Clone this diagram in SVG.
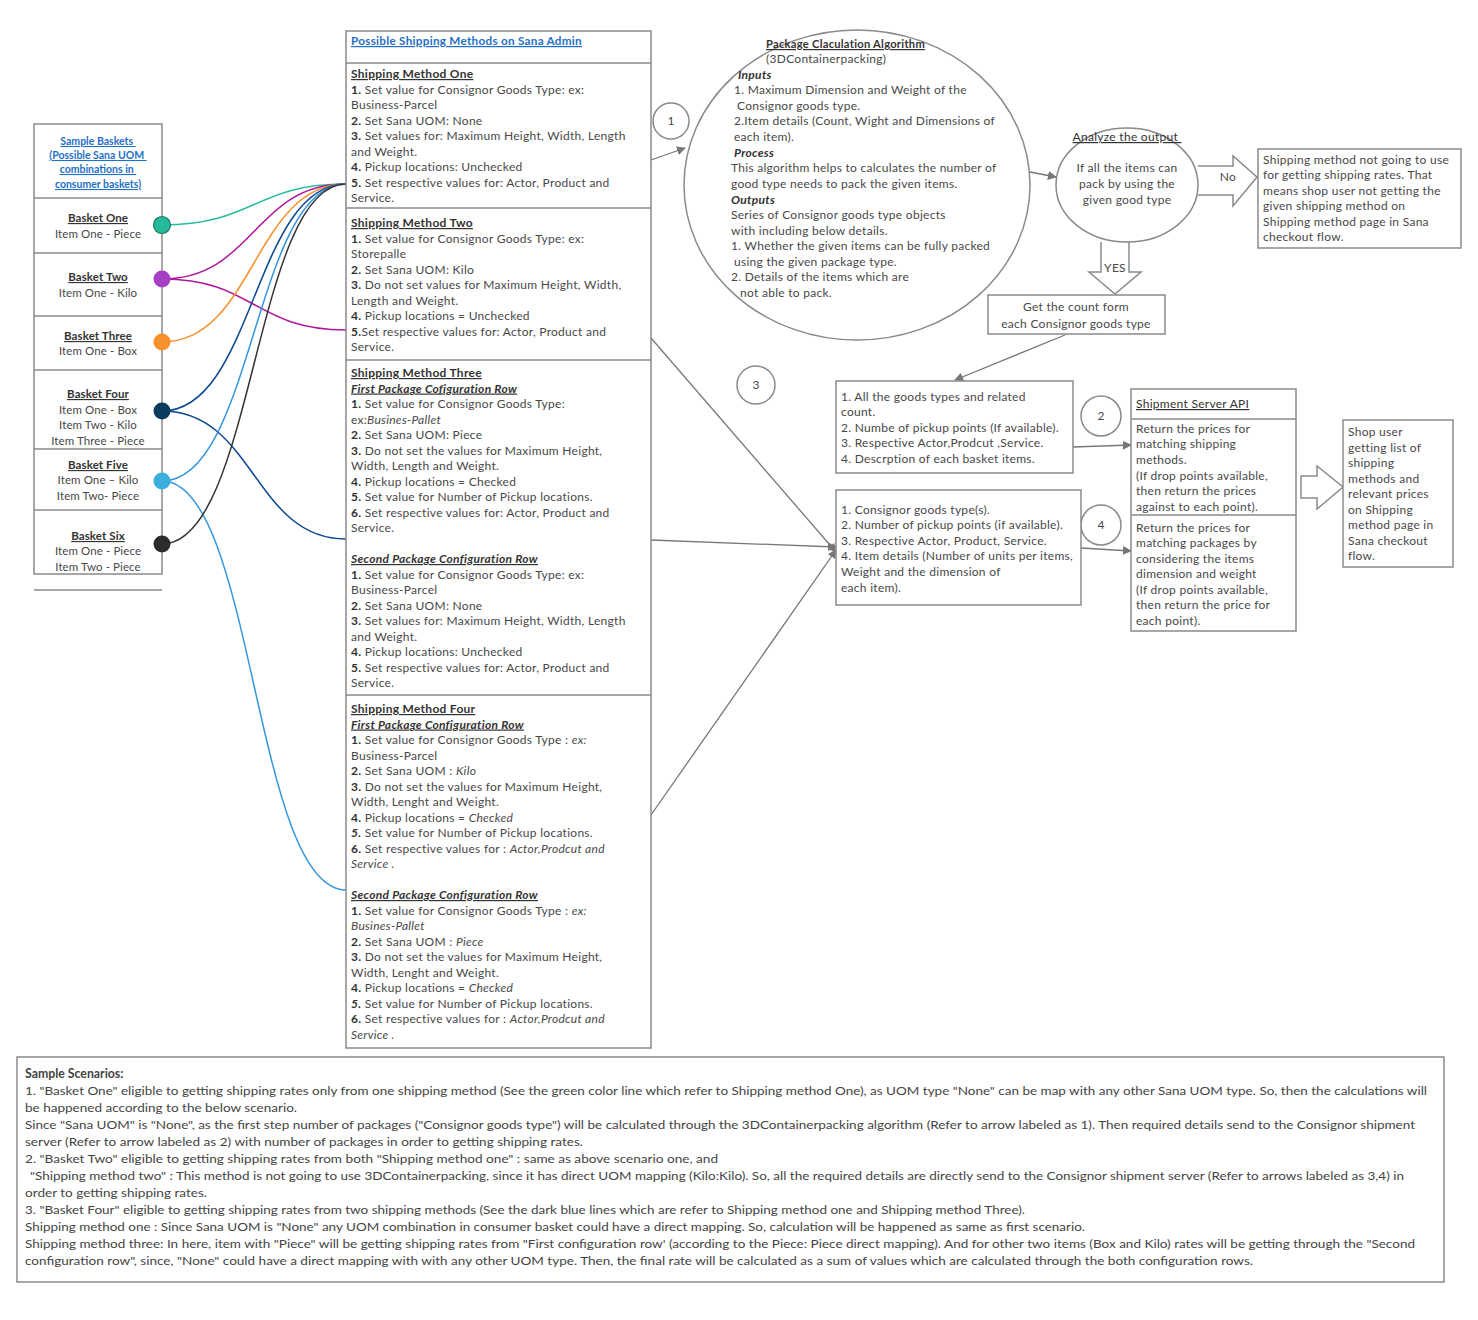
<svg xmlns="http://www.w3.org/2000/svg" width="1478" height="1320" viewBox="0 0 1478 1320">
<defs>
<style>
text { font-family: Lato, "Open Sans", "Liberation Sans", sans-serif; fill: #484848; }
.t { font-size: 12px; letter-spacing: 0.28px; }
.s { font-size: 12px; letter-spacing: 0.28px; }
.bk { font-size: 11.5px; letter-spacing: 0.1px; }
.hd { font-weight: bold; text-decoration: underline; fill: #333; }
.it { font-style: italic; font-weight: bold; text-decoration: underline; fill: #333; }
.b { font-weight: bold; fill: #333; }
.i { font-style: italic; }
.bi { font-style: italic; font-weight: bold; fill: #333; }
.lnk { font-weight: bold; text-decoration: underline; fill: #1f6fc5; }
.ul { text-decoration: underline; fill: #333; }
.box { fill: #fff; stroke: #8a8a8a; stroke-width: 1.5; }
.div { stroke: #8a8a8a; stroke-width: 1.5; fill: none; }
.arr { stroke: #777; stroke-width: 1.3; fill: none; marker-end: url(#ah); }
.cur { fill: none; stroke-width: 1.5; }
.sc { font-size: 12.3px; fill: #444; }
</style>
<marker id="ah" viewBox="0 0 10 10" refX="9" refY="5" markerWidth="9" markerHeight="9" markerUnits="userSpaceOnUse" orient="auto">
<path d="M0,0 L10,5 L0,10 z" fill="#777"/>
</marker>
</defs>
<rect width="1478" height="1320" fill="#fff"/>

<!-- Baskets -->
<g id="baskets">
<rect class="box" x="34" y="124" width="128" height="450"/>
<line class="div" x1="34" y1="198" x2="162" y2="198"/>
<line class="div" x1="34" y1="253" x2="162" y2="253"/>
<line class="div" x1="34" y1="316" x2="162" y2="316"/>
<line class="div" x1="34" y1="370" x2="162" y2="370"/>
<line class="div" x1="34" y1="449" x2="162" y2="449"/>
<line class="div" x1="34" y1="510" x2="162" y2="510"/>
<line class="div" x1="34" y1="590" x2="162" y2="590"/>
<text class="lnk" font-size="10.5" text-anchor="middle"><tspan x="98" y="145">Sample Baskets </tspan><tspan x="98" y="159">(Possible Sana UOM </tspan><tspan x="98" y="173">combinations in </tspan><tspan x="98" y="188">consumer baskets)</tspan></text>
</g>
<g id="basket-one"><text class="bk" text-anchor="middle"><tspan x="98" y="222" class="hd">Basket One</tspan><tspan x="98" y="238">Item One - Piece</tspan></text></g>
<g id="basket-two"><text class="bk" text-anchor="middle"><tspan x="98" y="281" class="hd">Basket Two</tspan><tspan x="98" y="297">Item One - Kilo</tspan></text></g>
<g id="basket-three"><text class="bk" text-anchor="middle"><tspan x="98" y="340" class="hd">Basket Three</tspan><tspan x="98" y="355">Item One - Box</tspan></text></g>
<g id="basket-four"><text class="bk" text-anchor="middle"><tspan x="98" y="398" class="hd">Basket Four</tspan><tspan x="98" y="414">Item One - Box</tspan><tspan x="98" y="429">Item Two - Kilo</tspan><tspan x="98" y="445">Item Three - Piece</tspan></text></g>
<g id="basket-five"><text class="bk" text-anchor="middle"><tspan x="98" y="469" class="hd">Basket Five</tspan><tspan x="98" y="484">Item One – Kilo</tspan><tspan x="98" y="500">Item Two- Piece</tspan></text></g>
<g id="basket-six"><text class="bk" text-anchor="middle"><tspan x="98" y="540" class="hd">Basket Six</tspan><tspan x="98" y="555">Item One - Piece</tspan><tspan x="98" y="571">Item Two - Piece</tspan></text></g>

<!-- Connectors -->
<g id="connectors">
<path class="cur" stroke="#2bbc9c" d="M162,225 C254,225 254,184 346,184"/>
<path class="cur" stroke="#b0179a" d="M162,279 C254,279 254,184 346,184"/>
<path class="cur" stroke="#b0179a" d="M162,279 C254,279 254,330 346,330"/>
<path class="cur" stroke="#f7912b" d="M162,342 C254,342 254,184 346,184"/>
<path class="cur" stroke="#0a4791" d="M162,411 C254,411 254,184 346,184"/>
<path class="cur" stroke="#0a4791" d="M162,411 C254,411 254,539 346,539"/>
<path class="cur" stroke="#3497e0" d="M162,481 C254,481 254,184 346,184"/>
<path class="cur" stroke="#3497e0" d="M162,481 C254,481 254,890 346,890"/>
<path class="cur" stroke="#333" d="M162,544 C254,544 254,184 346,184"/>
<line class="arr" x1="651" y1="160" x2="685" y2="148"/>
<line class="arr" x1="1030" y1="172" x2="1056" y2="177"/>
<line class="arr" x1="1065" y1="335" x2="955" y2="380"/>
<line class="arr" x1="1073" y1="447" x2="1131" y2="445"/>
<line class="arr" x1="1081" y1="548" x2="1131" y2="551"/>
<line class="arr" x1="651" y1="338" x2="836" y2="552"/>
<line class="arr" x1="651" y1="540" x2="836" y2="547"/>
<line class="arr" x1="651" y1="815" x2="836" y2="550"/>
<path d="M1198,166 L1233,166 L1233,156 L1257,177 L1233,206 L1233,195 L1198,195" fill="#fff" stroke="#8a8a8a" stroke-width="1.5"/>
<text class="t" x="1228" y="181" text-anchor="middle">No</text>
<path d="M1101,242 L1101,272 L1089,272 L1115,294 L1141,272 L1129,272 L1129,242" fill="#fff" stroke="#8a8a8a" stroke-width="1.5"/>
<text class="t" font-size="10.5" x="1115" y="272" text-anchor="middle" letter-spacing="0">YES</text>
<path d="M1301,476 L1317,476 L1317,466 L1343,487 L1317,509 L1317,498 L1301,498 Z" fill="#fff" stroke="#8a8a8a" stroke-width="1.5"/>
</g>

<!-- Shipping methods column -->
<g id="shipping-methods">
<rect class="box" x="346" y="31" width="305" height="1017"/>
<line class="div" x1="346" y1="63" x2="651" y2="63"/>
<line class="div" x1="346" y1="208" x2="651" y2="208"/>
<line class="div" x1="346" y1="360" x2="651" y2="360"/>
<line class="div" x1="346" y1="695" x2="651" y2="695"/>
<text class="t lnk" font-weight="normal" x="351" y="45" textLength="231" lengthAdjust="spacingAndGlyphs">Possible Shipping Methods on Sana Admin</text>
</g>
<g id="method-one">
<text class="t"><tspan x="351" y="78" class="hd">Shipping Method One</tspan><tspan x="351" dy="15.5"><tspan class="b">1.</tspan> Set value for Consignor Goods Type:  ex:</tspan><tspan x="351" dy="15.5">Business-Parcel</tspan><tspan x="351" dy="15.5"><tspan class="b">2.</tspan> Set Sana UOM: None</tspan><tspan x="351" dy="15.5"><tspan class="b">3.</tspan> Set values for: Maximum Height, Width, Length</tspan><tspan x="351" dy="15.5">and Weight.</tspan><tspan x="351" dy="15.5"><tspan class="b">4.</tspan> Pickup locations: Unchecked</tspan><tspan x="351" dy="15.5"><tspan class="b">5.</tspan> Set respective values for:  Actor, Product and</tspan><tspan x="351" dy="15.5">Service.</tspan></text>
</g>
<g id="method-two">
<text class="t"><tspan x="351" y="227" class="hd">Shipping Method Two</tspan><tspan x="351" dy="15.5"><tspan class="b">1.</tspan> Set value for Consignor Goods Type:  ex:</tspan><tspan x="351" dy="15.5">Storepalle</tspan><tspan x="351" dy="15.5"><tspan class="b">2.</tspan> Set Sana UOM: Kilo</tspan><tspan x="351" dy="15.5"><tspan class="b">3.</tspan> Do not set values for Maximum Height, Width,</tspan><tspan x="351" dy="15.5">Length and Weight.</tspan><tspan x="351" dy="15.5"><tspan class="b">4.</tspan> Pickup locations = Unchecked</tspan><tspan x="351" dy="15.5"><tspan class="b">5.</tspan>Set respective values for:  Actor, Product and</tspan><tspan x="351" dy="15.5">Service.</tspan></text>
</g>
<g id="method-three">
<text class="t"><tspan x="351" y="377" class="hd">Shipping Method Three</tspan><tspan x="351" dy="15.5" class="it">First Package Cofiguration Row</tspan><tspan x="351" dy="15.5"><tspan class="b">1.</tspan> Set value for Consignor Goods Type:</tspan><tspan x="351" dy="15.5">ex:<tspan class="i">Busines-Pallet</tspan></tspan><tspan x="351" dy="15.5"><tspan class="b">2.</tspan> Set Sana UOM: Piece</tspan><tspan x="351" dy="15.5"><tspan class="b">3.</tspan> Do not set the values for Maximum Height,</tspan><tspan x="351" dy="15.5">Width, Length and Weight.</tspan><tspan x="351" dy="15.5"><tspan class="b">4.</tspan> Pickup locations = Checked</tspan><tspan x="351" dy="15.5"><tspan class="b">5.</tspan> Set value for Number of Pickup locations.</tspan><tspan x="351" dy="15.5"><tspan class="b">6.</tspan> Set respective values for:  Actor, Product and</tspan><tspan x="351" dy="15.5">Service.</tspan><tspan x="351" dy="31" class="it">Second Package Configuration Row</tspan><tspan x="351" dy="15.5"><tspan class="b">1.</tspan> Set value for Consignor Goods Type:  ex:</tspan><tspan x="351" dy="15.5">Business-Parcel</tspan><tspan x="351" dy="15.5"><tspan class="b">2.</tspan> Set Sana UOM: None</tspan><tspan x="351" dy="15.5"><tspan class="b">3.</tspan> Set values for: Maximum Height, Width, Length</tspan><tspan x="351" dy="15.5">and Weight.</tspan><tspan x="351" dy="15.5"><tspan class="b">4.</tspan> Pickup locations: Unchecked</tspan><tspan x="351" dy="15.5"><tspan class="b">5.</tspan> Set respective values for:  Actor, Product and</tspan><tspan x="351" dy="15.5">Service.</tspan></text>
</g>
<g id="method-four">
<text class="t"><tspan x="351" y="713" class="hd">Shipping Method Four</tspan><tspan x="351" dy="15.5" class="it">First Package Configuration Row</tspan><tspan x="351" dy="15.5"><tspan class="b">1.</tspan> Set value for Consignor Goods Type :  <tspan class="i">ex:</tspan></tspan><tspan x="351" dy="15.5">Business-Parcel</tspan><tspan x="351" dy="15.5"><tspan class="b">2.</tspan> Set Sana UOM : <tspan class="i">Kilo</tspan></tspan><tspan x="351" dy="15.5"><tspan class="b">3.</tspan> Do not set the values for Maximum Height,</tspan><tspan x="351" dy="15.5">Width, Lenght and Weight.</tspan><tspan x="351" dy="15.5"><tspan class="b">4.</tspan> Pickup locations = <tspan class="i">Checked</tspan></tspan><tspan x="351" dy="15.5"><tspan class="bi">5.</tspan> Set value for Number of Pickup locations.</tspan><tspan x="351" dy="15.5"><tspan class="b">6.</tspan> Set respective values for :  <tspan class="i">Actor,Prodcut and</tspan></tspan><tspan x="351" dy="15.5" class="i">Service .</tspan><tspan x="351" dy="31" class="it">Second Package Configuration Row</tspan><tspan x="351" dy="15.5"><tspan class="b">1.</tspan> Set value for Consignor Goods Type :  <tspan class="i">ex:</tspan></tspan><tspan x="351" dy="15.5" class="i">Busines-Pallet</tspan><tspan x="351" dy="15.5"><tspan class="b">2.</tspan> Set Sana UOM : <tspan class="i">Piece</tspan></tspan><tspan x="351" dy="15.5"><tspan class="b">3.</tspan> Do not set the values for Maximum Height,</tspan><tspan x="351" dy="15.5">Width, Lenght and Weight.</tspan><tspan x="351" dy="15.5"><tspan class="b">4.</tspan> Pickup locations = <tspan class="i">Checked</tspan></tspan><tspan x="351" dy="15.5"><tspan class="bi">5.</tspan> Set value for Number of Pickup locations.</tspan><tspan x="351" dy="15.5"><tspan class="b">6.</tspan> Set respective values for :  <tspan class="i">Actor,Prodcut and</tspan></tspan><tspan x="351" dy="15.5" class="i">Service .</tspan></text>
</g>

<!-- Dots -->
<g id="dots">
<circle cx="162" cy="225" r="8.5" fill="#26b99a" stroke="#1d7a62" stroke-width="1.2"/>
<circle cx="162" cy="279" r="8.5" fill="#a63fc3"/>
<circle cx="162" cy="342" r="8.5" fill="#f7912b"/>
<circle cx="162" cy="411" r="8.5" fill="#0b3b5c"/>
<circle cx="162" cy="481" r="8.5" fill="#3aaedc"/>
<circle cx="162" cy="544" r="8.5" fill="#2b2b2b"/>
</g>

<!-- Numbered circles -->
<g id="label-1"><circle class="box" cx="671" cy="121" r="18"/><text class="s" x="671" y="125" text-anchor="middle">1</text></g>
<g id="label-3"><circle class="box" cx="756" cy="385" r="19"/><text class="s" x="756" y="389" text-anchor="middle">3</text></g>
<g id="label-2"><circle class="box" cx="1101" cy="416" r="20"/><text class="s" x="1101" y="420" text-anchor="middle">2</text></g>
<g id="label-4"><circle class="box" cx="1101" cy="525" r="20"/><text class="s" x="1101" y="529" text-anchor="middle">4</text></g>

<!-- Algorithm ellipse -->
<g id="algorithm">
<ellipse class="box" cx="857" cy="185" rx="173" ry="155"/>
<text class="s"><tspan x="766" y="48" class="ul" font-weight="bold" textLength="159" lengthAdjust="spacingAndGlyphs">Package Claculation Algorithm</tspan><tspan x="766" y="63">(3DContainerpacking)</tspan><tspan x="738" y="79" class="bi">Inputs</tspan><tspan x="734" y="94">1. Maximum Dimension and Weight of the</tspan><tspan x="737" y="110">Consignor goods type.</tspan><tspan x="734" y="125">2.Item details (Count, Wight and Dimensions of</tspan><tspan x="734" y="141">each item).</tspan><tspan x="734" y="157" class="bi">Process</tspan><tspan x="731" y="172">This algorithm helps to calculates the number of</tspan><tspan x="731" y="188">good type needs to pack the given items.</tspan><tspan x="731" y="204" class="bi">Outputs</tspan><tspan x="731" y="219">Series of Consignor goods type objects</tspan><tspan x="731" y="235">with including below details.</tspan><tspan x="731" y="250">1. Whether the given items can be fully packed</tspan><tspan x="734" y="266">using the given package type.</tspan><tspan x="731" y="281">2. Details of the items which are</tspan><tspan x="740" y="297">not able to pack.</tspan></text>
</g>

<!-- Analyze -->
<g id="analyze">
<ellipse class="box" cx="1127" cy="185" rx="71" ry="57"/>
<text class="s" text-anchor="middle"><tspan x="1127" y="141" class="ul" font-weight="normal">Analyze the output </tspan><tspan x="1127" y="172">If all the items can</tspan><tspan x="1127" y="188">pack by using the</tspan><tspan x="1127" y="204">given good type</tspan></text>
</g>

<g id="not-used">
<rect class="box" x="1258" y="149" width="203" height="99"/>
<text class="s"><tspan x="1263" y="164">Shipping method not going to use</tspan><tspan x="1263" y="179">for getting shipping rates. That</tspan><tspan x="1263" y="195">means shop user not getting the</tspan><tspan x="1263" y="210">given shipping method on</tspan><tspan x="1263" y="226">Shipping method page in Sana</tspan><tspan x="1263" y="241">checkout flow.</tspan></text>
</g>

<g id="get-count">
<rect class="box" x="988" y="295" width="177" height="39"/>
<text class="t" font-size="13" letter-spacing="0.3" text-anchor="middle"><tspan x="1076" y="311">Get the count form</tspan><tspan x="1076" y="328">each Consignor goods type</tspan></text>
</g>

<g id="details-a">
<rect class="box" x="836" y="381" width="237" height="92"/>
<text class="s"><tspan x="841" y="401">1. All the goods types and related</tspan><tspan x="841" y="416">count.</tspan><tspan x="841" y="432">2. Numbe of pickup points (If available).</tspan><tspan x="841" y="447">3. Respective Actor,Prodcut ,Service.</tspan><tspan x="841" y="463">4. Descrption of each basket items.</tspan></text>
</g>

<g id="details-b">
<rect class="box" x="836" y="490" width="245" height="115"/>
<text class="s"><tspan x="841" y="514">1. Consignor goods type(s).</tspan><tspan x="841" y="529">2. Number of pickup points (if available).</tspan><tspan x="841" y="545">3. Respective Actor, Product, Service.</tspan><tspan x="841" y="560">4. Item details (Number of units per items,</tspan><tspan x="841" y="576">Weight and the dimension of</tspan><tspan x="841" y="592">each item).</tspan></text>
</g>

<g id="shipment-api">
<rect class="box" x="1131" y="389" width="165" height="242"/>
<line class="div" x1="1131" y1="419" x2="1296" y2="419"/>
<line class="div" x1="1131" y1="515" x2="1296" y2="515"/>
<text class="s"><tspan x="1136" y="408" class="ul" font-weight="normal">Shipment Server API</tspan><tspan x="1136" y="433">Return the prices for</tspan><tspan x="1136" y="448">matching shipping</tspan><tspan x="1136" y="464">methods.</tspan><tspan x="1136" y="480">(If drop points available,</tspan><tspan x="1136" y="495">then return the prices</tspan><tspan x="1136" y="511">against to each point).</tspan><tspan x="1136" y="532">Return the prices for</tspan><tspan x="1136" y="547">matching packages by</tspan><tspan x="1136" y="563">considering the items</tspan><tspan x="1136" y="578">dimension and weight</tspan><tspan x="1136" y="594">(If drop points available,</tspan><tspan x="1136" y="609">then return the price for</tspan><tspan x="1136" y="625">each point).</tspan></text>
</g>

<g id="shop-user">
<rect class="box" x="1343" y="420" width="110" height="147"/>
<text class="s"><tspan x="1348" y="436">Shop user</tspan><tspan x="1348" y="452">getting list of</tspan><tspan x="1348" y="467">shipping</tspan><tspan x="1348" y="483">methods and</tspan><tspan x="1348" y="498">relevant prices</tspan><tspan x="1348" y="514">on Shipping</tspan><tspan x="1348" y="529">method page in</tspan><tspan x="1348" y="545">Sana checkout</tspan><tspan x="1348" y="560">flow.</tspan></text>
</g>

<!-- Scenarios -->
<g id="scenarios">
<rect class="box" x="17" y="1057" width="1427" height="225"/>
<text class="sc" x="25" y="1078" font-weight="bold" fill="#333" font-size="13">Sample Scenarios:</text>
<text class="sc" x="25" y="1095" textLength="1402" lengthAdjust="spacingAndGlyphs">1. "Basket One" eligible to getting shipping rates only from one shipping method (See the green color line which refer to Shipping method One), as UOM type "None" can be map with any other Sana UOM type. So, then the calculations will</text>
<text class="sc" x="25" y="1112" textLength="272" lengthAdjust="spacingAndGlyphs">be happened according to the below scenario.</text>
<text class="sc" x="25" y="1129" textLength="1390" lengthAdjust="spacingAndGlyphs">Since "Sana UOM" is "None", as the first step number of packages ("Consignor goods type") will be calculated through the 3DContainerpacking algorithm (Refer to arrow labeled as 1). Then required details send to the Consignor shipment</text>
<text class="sc" x="25" y="1146" textLength="558" lengthAdjust="spacingAndGlyphs">server (Refer to arrow labeled as 2) with number of packages in order to getting shipping rates.</text>
<text class="sc" x="25" y="1163" textLength="693" lengthAdjust="spacingAndGlyphs">2.  "Basket Two" eligible to getting shipping rates from both "Shipping method one" : same as above scenario one,  and</text>
<text class="sc" x="30" y="1180" textLength="1374" lengthAdjust="spacingAndGlyphs">"Shipping method two" : This method is not going to use 3DContainerpacking, since it has direct UOM mapping (Kilo:Kilo). So, all the required details are directly send to the Consignor shipment server (Refer to arrows labeled as 3,4) in</text>
<text class="sc" x="25" y="1197" textLength="182" lengthAdjust="spacingAndGlyphs">order to getting shipping rates.</text>
<text class="sc" x="25" y="1214" textLength="1000" lengthAdjust="spacingAndGlyphs">3. "Basket Four" eligible to getting shipping rates from two shipping methods (See the dark blue lines which are refer to Shipping method one and Shipping method Three).</text>
<text class="sc" x="25" y="1231" textLength="1060" lengthAdjust="spacingAndGlyphs">Shipping method one : Since Sana UOM is "None" any UOM combination in consumer basket could have a direct mapping. So, calculation will be happened as same as first scenario.</text>
<text class="sc" x="25" y="1248" textLength="1390" lengthAdjust="spacingAndGlyphs">Shipping method three:  In here, item with "Piece" will be getting shipping rates from "First configuration row' (according to the Piece: Piece direct mapping). And for other two items (Box and Kilo) rates will be getting through the "Second</text>
<text class="sc" x="25" y="1265" textLength="1228" lengthAdjust="spacingAndGlyphs">configuration row", since, "None" could have a direct mapping with with any other UOM type. Then, the final rate will be  calculated as a sum of values which are calculated through the both configuration rows.</text>
</g>
</svg>
